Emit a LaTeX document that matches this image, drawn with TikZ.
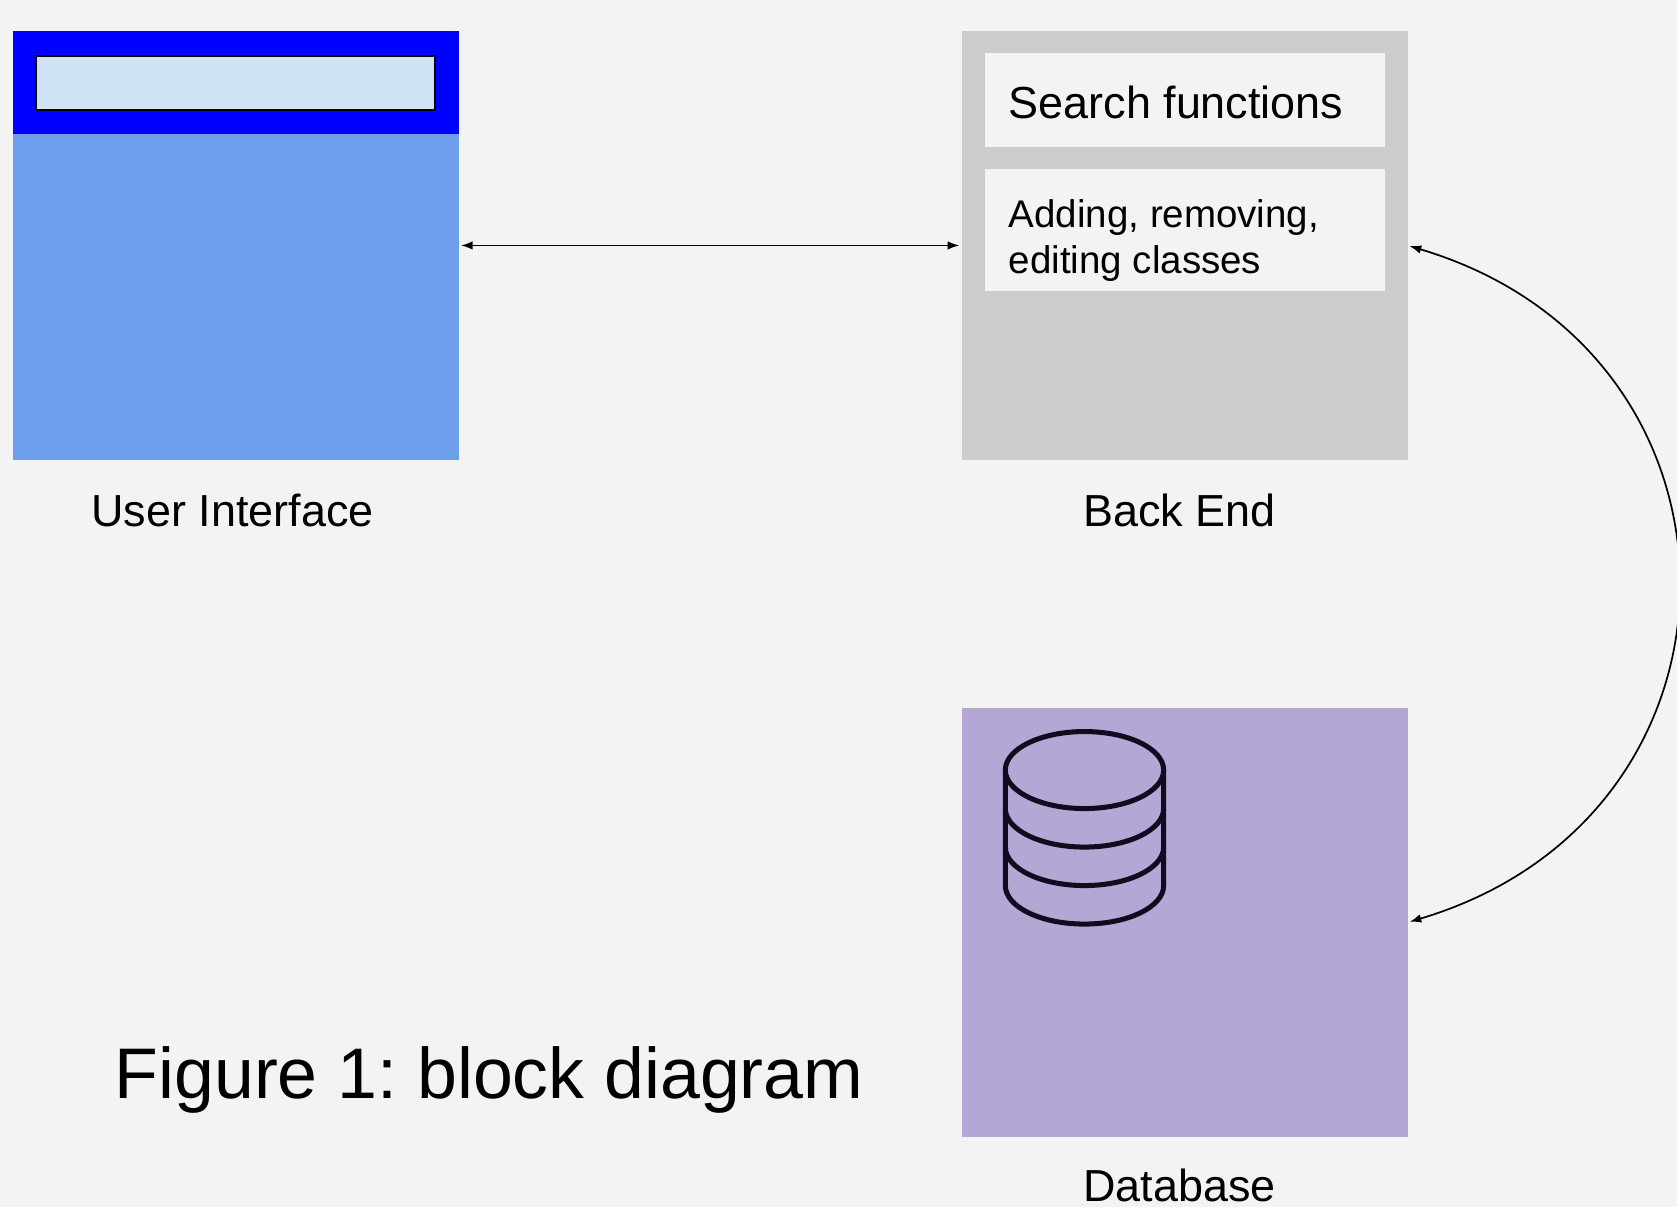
\documentclass[tikz,border=0pt]{standalone}
\usepackage{fontspec}
\setmainfont{Liberation Sans}
\usetikzlibrary{arrows.meta,calc}
\definecolor{bgc}{HTML}{F3F3F3}
\definecolor{uiblue}{HTML}{6D9EEB}
\definecolor{bandblue}{HTML}{0000FF}
\definecolor{barfill}{HTML}{CFE2F3}
\definecolor{begray}{HTML}{CCCCCC}
\definecolor{dbpurple}{HTML}{B4A7D6}
\definecolor{iconc}{HTML}{120A1E}
\frenchspacing
\begin{document}
\begin{tikzpicture}[x=1pt,y=-1pt,
  blk/.style={draw=none,inner sep=0pt,outer sep=0pt,anchor=north west},
  lbl/.style={inner sep=0pt,font=\fontsize{42}{50}\selectfont,text=black},
  small/.style={inner sep=0pt,font=\fontsize{36}{43}\selectfont,text=black,anchor=base west},
  conn/.style={line width=1.6pt,black,{Latex[length=11pt,width=8pt]}-{Latex[length=11pt,width=8pt]},shorten >=2pt,shorten <=2pt},
  cyl/.style={line width=4.7pt,draw=iconc}]
\fill[bgc] (0,0) rectangle (1568,1129);
\useasboundingbox (0,0) rectangle (1568,1129);
% User Interface
\node[blk,fill=uiblue,minimum width=417pt,minimum height=401pt] (ui) at (12,29) {};
\node[blk,fill=bandblue,minimum width=417pt,minimum height=96pt] (band) at (12,29) {};
\node[blk,fill=barfill,draw=black,line width=2pt,minimum width=373pt,minimum height=51pt] (bar) at (34,52) {};
\node[lbl,anchor=base] (uilbl) at (217.5,492) {User Interface};
% Back End
\node[blk,fill=begray,minimum width=417pt,minimum height=401pt] (be) at (899,29) {};
\node[blk,fill=bgc,minimum width=374pt,minimum height=87pt] (sf) at (921,50) {};
\node[blk,fill=bgc,minimum width=374pt,minimum height=114pt] (ar) at (921,158) {};
\node[lbl,anchor=base west] (sftxt) at (943,111) {Search functions};
\node[small] (artxt1) at (943,213) {Adding, removing,};
\node[small] (artxt2) at (943,256) {editing classes};
\node[lbl,anchor=base] (belbl) at (1103,492) {Back End};
% Database
\node[blk,fill=dbpurple,minimum width=417pt,minimum height=401pt] (db) at (899,662) {};
\draw[cyl] (1014,720) ellipse [x radius=74, y radius=36];
\draw[cyl] (940,720) -- (940,828) arc[start angle=180,end angle=0,x radius=74,y radius=36] -- (1088,720);
\draw[cyl] (940,756) arc[start angle=180,end angle=0,x radius=74,y radius=36];
\draw[cyl] (940,792) arc[start angle=180,end angle=0,x radius=74,y radius=36];
\node[lbl,anchor=base] (dblbl) at (1103,1123) {Database};
% Caption
\node[inner sep=0pt,anchor=base west,font=\fontsize{67}{80}\selectfont,text=black] (cap) at (107,1027) {Figure 1: block diagram};
% Connectors
\draw[conn] (ui.east) -- (be.west);
\draw[conn] (be.east) .. controls ($(be.east)+(336,100)$) and ($(db.east)+(336,-100)$) .. (db.east);
\end{tikzpicture}
\end{document}
